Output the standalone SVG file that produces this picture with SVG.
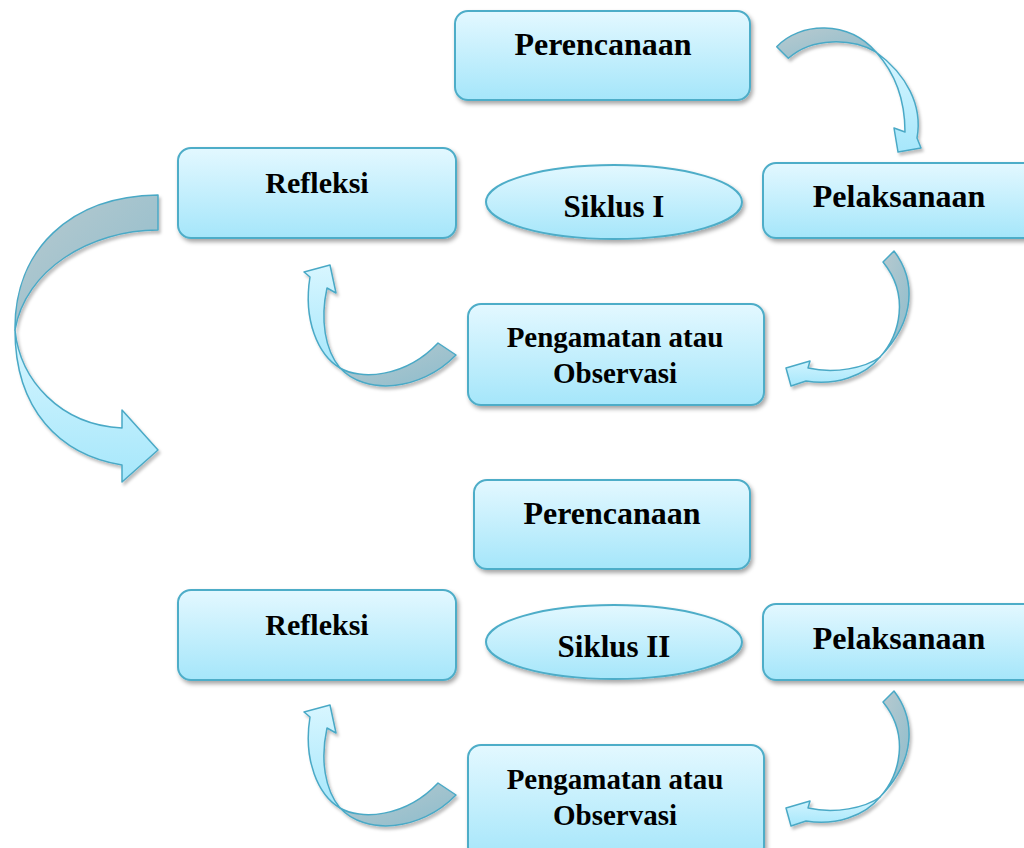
<svg xmlns="http://www.w3.org/2000/svg" width="1024" height="848" viewBox="0 0 1024 848">
<defs>
<linearGradient id="boxg" x1="0" y1="0" x2="0" y2="1">
<stop offset="0" stop-color="#e3f8ff"/>
<stop offset="1" stop-color="#a5e6fa"/>
</linearGradient>
<linearGradient id="backg" x1="0" y1="0" x2="1" y2="1">
<stop offset="0" stop-color="#b9cacf"/>
<stop offset="1" stop-color="#8cbccc"/>
</linearGradient>
<linearGradient id="frontg" x1="0" y1="0" x2="0" y2="1">
<stop offset="0" stop-color="#d8f6ff"/>
<stop offset="1" stop-color="#a6e7fb"/>
</linearGradient>
<filter id="sh" x="-10%" y="-10%" width="130%" height="140%">
<feDropShadow dx="2" dy="3" stdDeviation="2" flood-color="#000" flood-opacity="0.35"/>
</filter>
<filter id="ash" x="-10%" y="-10%" width="130%" height="130%">
<feDropShadow dx="2" dy="3" stdDeviation="1.8" flood-color="#000" flood-opacity="0.25"/>
</filter>
</defs>
<style>
.box{fill:url(#boxg);stroke:#4eadc8;stroke-width:2;filter:url(#sh)}
.back{fill:url(#backg);stroke:#4aa9c6;stroke-width:1.5;stroke-linejoin:round}
.front{fill:url(#frontg);stroke:#4aa9c6;stroke-width:1.5;stroke-linejoin:round}
.t{font-family:"Liberation Serif","Times New Roman",serif;font-weight:bold;fill:#000;text-anchor:middle}
</style>
<rect width="1024" height="848" fill="#fff"/>

<g id="connectors">
<g id="arrow-plan1-pel1" filter="url(#ash)">
<path class="back" d="M776.7,46.7 C800,22 848,20 876,52 C852,38 812,37 788.3,58.3 Z"/>
<path class="front" d="M876,52 C906,74 923,105 917,138 L921,148 L898,152 L894,128 L905,132 C905,100 896,74 876,52 Z"/>
</g>
<g id="arrow-pel1-peng1" filter="url(#ash)">
<path class="back" d="M894,251 C916,280 916,320 880,357 C900,335 910,295 883,262 Z"/>
<path class="front" d="M880,357 C865,376 835,386 806,381 L791,386 L786,368 L810,361 L808,368 C835,374 865,368 880,357 Z"/>
</g>
<g id="arrow-peng1-ref1" filter="url(#ash)">
<path class="back" d="M340,368 C360,380 405,378 438,343 L456,355 C420,392 365,395 340,368 Z"/>
<path class="front" d="M340,368 C318,355 303,320 310,277 L304,272 L330,265 L336,293 L327,288 C320,320 325,350 340,368 Z"/>
</g>
<g id="arrow-ref1-siklus2" filter="url(#ash)">
<path class="back" d="M158,195 L158,230 C90,230 25,270 15,330 C14,250 70,196 158,195 Z"/>
<path class="front" d="M15,330 C15,410 60,455 122,465 L122,482 L158,450 L122,410 L122,428 C60,425 20,380 15,330 Z"/>
</g>
<g id="arrow-pel2-peng2" filter="url(#ash)" transform="translate(0,440)">
<path class="back" d="M894,251 C916,280 916,320 880,357 C900,335 910,295 883,262 Z"/>
<path class="front" d="M880,357 C865,376 835,386 806,381 L791,386 L786,368 L810,361 L808,368 C835,374 865,368 880,357 Z"/>
</g>
<g id="arrow-peng2-ref2" filter="url(#ash)" transform="translate(0,440)">
<path class="back" d="M340,368 C360,380 405,378 438,343 L456,355 C420,392 365,395 340,368 Z"/>
<path class="front" d="M340,368 C318,355 303,320 310,277 L304,272 L330,265 L336,293 L327,288 C320,320 325,350 340,368 Z"/>
</g>
</g>

<g id="perencanaan1">
<rect class="box" x="455" y="11" width="295" height="89" rx="13"/>
<text class="t" x="603" y="55" font-size="32">Perencanaan</text>
</g>
<g id="refleksi1">
<rect class="box" x="178" y="148" width="278" height="90" rx="13"/>
<text class="t" x="317" y="193" font-size="30">Refleksi</text>
</g>
<g id="siklus1">
<ellipse class="box" cx="614" cy="202" rx="128" ry="37"/>
<text class="t" x="614" y="217" font-size="31">Siklus I</text>
</g>
<g id="pelaksanaan1">
<rect class="box" x="763" y="163" width="290" height="75" rx="13"/>
<text class="t" x="899" y="207" font-size="32">Pelaksanaan</text>
</g>
<g id="pengamatan1">
<rect class="box" x="468" y="304" width="296" height="101" rx="13"/>
<text class="t" x="615" y="347" font-size="29">Pengamatan atau</text>
<text class="t" x="615" y="383" font-size="29">Observasi</text>
</g>

<g id="perencanaan2">
<rect class="box" x="474" y="480" width="276" height="89" rx="13"/>
<text class="t" x="612" y="524" font-size="32">Perencanaan</text>
</g>
<g id="refleksi2">
<rect class="box" x="178" y="590" width="278" height="90" rx="13"/>
<text class="t" x="317" y="635" font-size="30">Refleksi</text>
</g>
<g id="siklus2">
<ellipse class="box" cx="614" cy="642" rx="128" ry="37"/>
<text class="t" x="614" y="657" font-size="31">Siklus II</text>
</g>
<g id="pelaksanaan2">
<rect class="box" x="763" y="604" width="290" height="76" rx="13"/>
<text class="t" x="899" y="649" font-size="32">Pelaksanaan</text>
</g>
<g id="pengamatan2">
<rect class="box" x="468" y="745" width="296" height="115" rx="13"/>
<text class="t" x="615" y="789" font-size="29">Pengamatan atau</text>
<text class="t" x="615" y="825" font-size="29">Observasi</text>
</g>
</svg>
